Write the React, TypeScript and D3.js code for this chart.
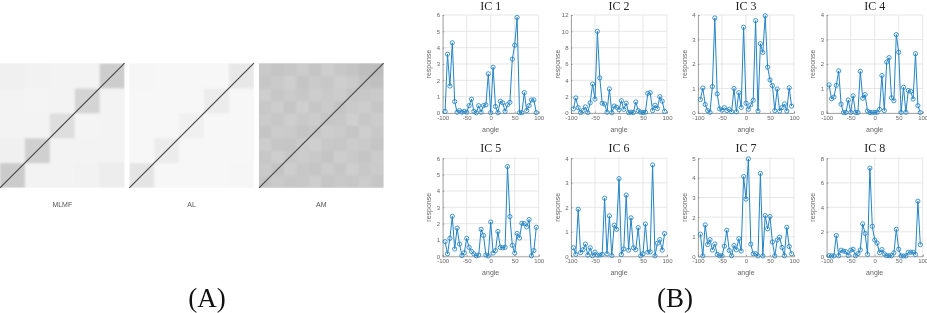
import React, { useEffect, useRef } from "react";
import * as d3 from "d3";

const angles = d3.range(-95, 100, 5);

const ic1 = [0.1, 3.6, 1.65, 4.3, 0.7, 0.05, 0.15, 0.05, 0.1, 0.05, 0.45, 0.85, 0.1, 0.02, 0.45, 0.05, 0.45, 0.5, 2.4, 0.02, 2.8, 0.4, 0.02, 0.72, 0.62, 0.1, 0.5, 0.65, 3.3, 4.15, 5.85, 0.02, 0.02, 1.25, 0.15, 0.45, 0.8, 0.8, 0.02];
const ic2 = [0.5, 1.85, 0.65, 0.05, 0.3, 0.75, 0.05, 1.25, 3.55, 1.7, 10, 4.3, 1.2, 1.1, 0.1, 2.95, 0.05, 0.85, 0.7, 0.4, 1.5, 0.45, 1.2, 0.05, 0.1, 0.05, 1.35, 0.3, 0.1, 0.05, 0.1, 2.4, 2.5, 0.3, 0.95, 0.55, 2, 1.45, 0.2];
const ic3 = [0.55, 1.02, 0.35, 0.1, 0.03, 1.08, 3.88, 0.78, 0.17, 0.12, 0.22, 0.1, 0.15, 0.05, 1, 0.05, 0.83, 0.23, 3.5, 0.4, 0.15, 0.33, 0.52, 3.77, 0.08, 2.83, 2.47, 3.97, 1.87, 1.35, 1.12, 0.1, 0.98, 0.08, 0.22, 0.37, 0.08, 1.03, 0.28];
const ic4 = [1.15, 0.58, 0.65, 1.13, 1.72, 0.36, 0.02, 0.02, 0.53, 0.02, 0.7, 0.02, 0.02, 1.7, 0.6, 0.75, 0.08, 0.02, 0.03, 0.02, 0.03, 0.15, 1.53, 0.1, 2.08, 2.26, 0.62, 0.5, 3.2, 2.48, 0.02, 1.05, 0.03, 0.92, 0.88, 0.57, 2.42, 0.3, 0.02];
const ic5 = [0.9, 0.15, 1.1, 2.45, 0.45, 1.72, 0.75, 0.05, 0.22, 1.1, 0.55, 0.3, 0.15, 0.03, 0.08, 1.65, 1.28, 0.08, 0.02, 2.1, 0.2, 0.35, 1.52, 0.55, 0.52, 0.55, 5.5, 2.43, 0.67, 0.2, 1.4, 1.12, 2.02, 2, 1.8, 2.25, 0.03, 0.35, 1.78];
const ic6 = [0.35, 0.08, 1.92, 0.15, 0.27, 0.5, 0.05, 0.35, 0.02, 0.17, 0.05, 0.05, 0.08, 2.37, 0.1, 1.65, 0.03, 1.27, 1.1, 3.17, 0.07, 0.3, 2.5, 0.25, 1.57, 0.35, 0.27, 1.17, 0.02, 0.1, 1.32, 0.17, 0.18, 3.73, 0.02, 0.53, 0.68, 0.25, 0.93];
const ic7 = [1.13, 0.02, 1.6, 0.6, 0.85, 0.32, 0.63, 0.1, 0.03, 0.02, 0.52, 1.33, 0.3, 0.03, 0.55, 0.33, 0.9, 0.27, 4.07, 2.92, 4.97, 0.62, 0.13, 0.13, 0.02, 4.23, 0.02, 2.08, 1.4, 2.03, 0.73, 0.02, 0.83, 0.98, 0.45, 0.03, 1.48, 0.5, 0.13];
const ic8 = [0.05, 0.03, 0.03, 1.7, 0.05, 0.5, 0.42, 0.38, 0.07, 0.5, 0.57, 0.05, 0.22, 0.52, 2.65, 1.87, 0.15, 7.2, 2.45, 1.33, 1.08, 0.3, 0.55, 0.2, 0.05, 0.05, 0.05, 0.28, 2.2, 0.58, 0.03, 0.03, 0.03, 0.33, 0.33, 0.33, 0.15, 4.5, 0.95];

const icSeries = [ic1, ic2, ic3, ic4, ic5, ic6, ic7, ic8];
const icMax = [6, 12, 4, 4, 6, 4, 5, 8];
const icTicks = [
  [0, 1, 2, 3, 4, 5, 6],
  [0, 2, 4, 6, 8, 10, 12],
  [0, 1, 2, 3, 4],
  [0, 1, 2, 3, 4],
  [0, 1, 2, 3, 4, 5, 6],
  [0, 1, 2, 3, 4],
  [0, 1, 2, 3, 4, 5],
  [0, 2, 4, 6, 8],
];
const angleTicks = [-100, -50, 0, 50, 100];

// similarity maps, grey level per block, first row is the bottom of the picture
const mlmf = [
  [203, 243, 243, 242, 237],
  [240, 208, 243, 243, 243],
  [243, 243, 222, 244, 243],
  [243, 244, 243, 212, 243],
  [240, 242, 243, 243, 205],
];
const al = [
  [228, 247, 247, 247, 246],
  [247, 236, 247, 247, 247],
  [247, 247, 240, 247, 247],
  [247, 247, 247, 236, 247],
  [246, 247, 247, 247, 232],
];
const am = [
  [196, 203, 198, 200, 205, 197, 201, 199, 204, 198],
  [202, 196, 205, 199, 197, 204, 198, 206, 200, 203],
  [199, 206, 200, 204, 201, 196, 205, 201, 197, 204],
  [205, 198, 197, 203, 207, 200, 199, 204, 202, 197],
  [197, 204, 202, 196, 199, 205, 203, 197, 206, 200],
  [203, 199, 206, 201, 204, 198, 200, 207, 199, 204],
  [200, 205, 197, 207, 198, 203, 196, 202, 205, 198],
  [206, 198, 203, 199, 205, 201, 204, 198, 200, 202],
  [198, 202, 207, 196, 202, 199, 206, 203, 194, 192],
  [201, 197, 199, 204, 197, 206, 199, 196, 190, 188],
];
const mapNames = ["MLMF", "AL", "AM"];
const mapValues = [mlmf, al, am];

const W = 927;
const H = 313;
const lineBlue = "#2484c4";
const grey = "#666";

export default function App() {
  const ref = useRef<SVGSVGElement>(null);

  useEffect(() => {
    const svg = d3.select(ref.current);
    svg.selectAll("*").remove();

    const defs = svg.append("defs");
    defs.append("filter")
      .attr("id", "soft")
      .attr("x", "-5%")
      .attr("y", "-5%")
      .attr("width", "110%")
      .attr("height", "110%")
      .append("feGaussianBlur")
      .attr("stdDeviation", 0.9);

    // left side
    const mapX = [0, 129.3, 259];
    const mapSize = 124.6;
    mapValues.forEach((m, k) => {
      const g = svg.append("g").attr("transform", `translate(${mapX[k]},63.2)`);
      defs.append("clipPath").attr("id", `clip${k}`).append("rect").attr("width", mapSize).attr("height", mapSize);
      const band = d3.scaleBand<number>().domain(d3.range(m.length)).range([0, mapSize]);
      const cells = g.append("g").attr("clip-path", `url(#clip${k})`).append("g").attr("filter", "url(#soft)");
      cells.append("rect")
        .attr("x", -4)
        .attr("y", -4)
        .attr("width", mapSize + 8)
        .attr("height", mapSize + 8)
        .attr("fill", d3.rgb(m[0][1], m[0][1], m[0][1]).toString());
      m.forEach((row, r) => {
        cells.selectAll(null)
          .data(row)
          .enter()
          .append("rect")
          .attr("x", (d, c) => band(c))
          .attr("y", mapSize - band(r) - band.bandwidth())
          .attr("width", band.bandwidth() + 0.3)
          .attr("height", band.bandwidth() + 0.3)
          .attr("fill", (d) => d3.rgb(d, d, d).toString());
      });
      g.append("line")
        .attr("x1", 0)
        .attr("y1", mapSize)
        .attr("x2", mapSize)
        .attr("y2", 0)
        .attr("stroke", "#4a4a4a")
        .attr("stroke-width", 1.2);
      g.append("text")
        .attr("x", mapSize / 2)
        .attr("y", 143.5)
        .attr("text-anchor", "middle")
        .attr("font-family", "Liberation Sans")
        .attr("font-size", 7)
        .attr("fill", "#555")
        .text(mapNames[k]);
    });

    // right side
    const colLeft = [442.7, 571, 698, 826.7];
    const rowTop = [15, 158.3];
    const pw = 96;
    const ph = 98;
    icSeries.forEach((values, i) => {
      const col = i % 4;
      const row = Math.floor(i / 4);
      const x = d3.scaleLinear().domain([-100, 100]).range([0, pw]);
      const y = d3.scaleLinear().domain([0, icMax[i]]).range([ph, 0]);
      const g = svg.append("g").attr("transform", `translate(${colLeft[col]},${rowTop[row]})`);

      g.selectAll(".gx")
        .data(angleTicks)
        .enter()
        .append("line")
        .attr("x1", (d) => x(d))
        .attr("x2", (d) => x(d))
        .attr("y1", 0)
        .attr("y2", ph)
        .attr("stroke", "#e4e4e4")
        .attr("stroke-width", 0.9);
      g.selectAll(".gy")
        .data(icTicks[i])
        .enter()
        .append("line")
        .attr("x1", 0)
        .attr("x2", pw)
        .attr("y1", (d) => y(d))
        .attr("y2", (d) => y(d))
        .attr("stroke", "#e4e4e4")
        .attr("stroke-width", 0.9);

      const xAxis = d3.axisBottom(x).tickValues(angleTicks).tickFormat((d) => String(d)).tickSize(-1.5).tickPadding(2.5);
      const yAxis = d3.axisLeft(y).tickValues(icTicks[i]).tickFormat((d) => String(d)).tickSize(-1.5).tickPadding(2.5);
      [g.append("g").attr("transform", `translate(0,${ph})`).call(xAxis), g.append("g").call(yAxis)].forEach((a) => {
        a.attr("font-family", "Liberation Sans").attr("font-size", 6);
        a.selectAll("text").attr("fill", grey);
        a.selectAll("path,line").attr("stroke", "#777").attr("stroke-width", 0.6);
      });

      const line = d3.line<number>().x((d, j) => x(angles[j])).y((d) => y(d));
      g.append("path")
        .attr("d", line(values))
        .attr("fill", "none")
        .attr("stroke", lineBlue)
        .attr("stroke-width", 1);
      g.selectAll("circle")
        .data(values)
        .enter()
        .append("circle")
        .attr("cx", (d, j) => x(angles[j]))
        .attr("cy", (d) => y(d))
        .attr("r", 2.1)
        .attr("fill", "none")
        .attr("stroke", lineBlue)
        .attr("stroke-width", 0.85);

      g.append("text")
        .attr("x", pw / 2)
        .attr("y", row === 0 ? -5 : -6.5)
        .attr("text-anchor", "middle")
        .attr("font-family", "Liberation Serif")
        .attr("font-size", 12)
        .attr("fill", "#222")
        .text(`IC ${i + 1}`);
      g.append("text")
        .attr("x", pw / 2)
        .attr("y", ph + 18.5)
        .attr("text-anchor", "middle")
        .attr("font-family", "Liberation Sans")
        .attr("font-size", 7)
        .attr("fill", grey)
        .text("angle");
      g.append("text")
        .attr("transform", `translate(-11.5,${ph / 2}) rotate(-90)`)
        .attr("text-anchor", "middle")
        .attr("font-family", "Liberation Sans")
        .attr("font-size", 7)
        .attr("fill", grey)
        .text("response");
    });

    svg.selectAll(".caption")
      .data([
        { label: "(A)", x: 207 },
        { label: "(B)", x: 675 },
      ])
      .enter()
      .append("text")
      .attr("x", (d) => d.x)
      .attr("y", 307)
      .attr("text-anchor", "middle")
      .attr("font-family", "Liberation Serif")
      .attr("font-size", 27)
      .attr("fill", "#111")
      .text((d) => d.label);
  }, []);

  return <svg ref={ref} width={W} height={H} style={{ position: "absolute", left: 0, top: 0, background: "#fff", filter: "blur(0.3px)" }}></svg>;
}
